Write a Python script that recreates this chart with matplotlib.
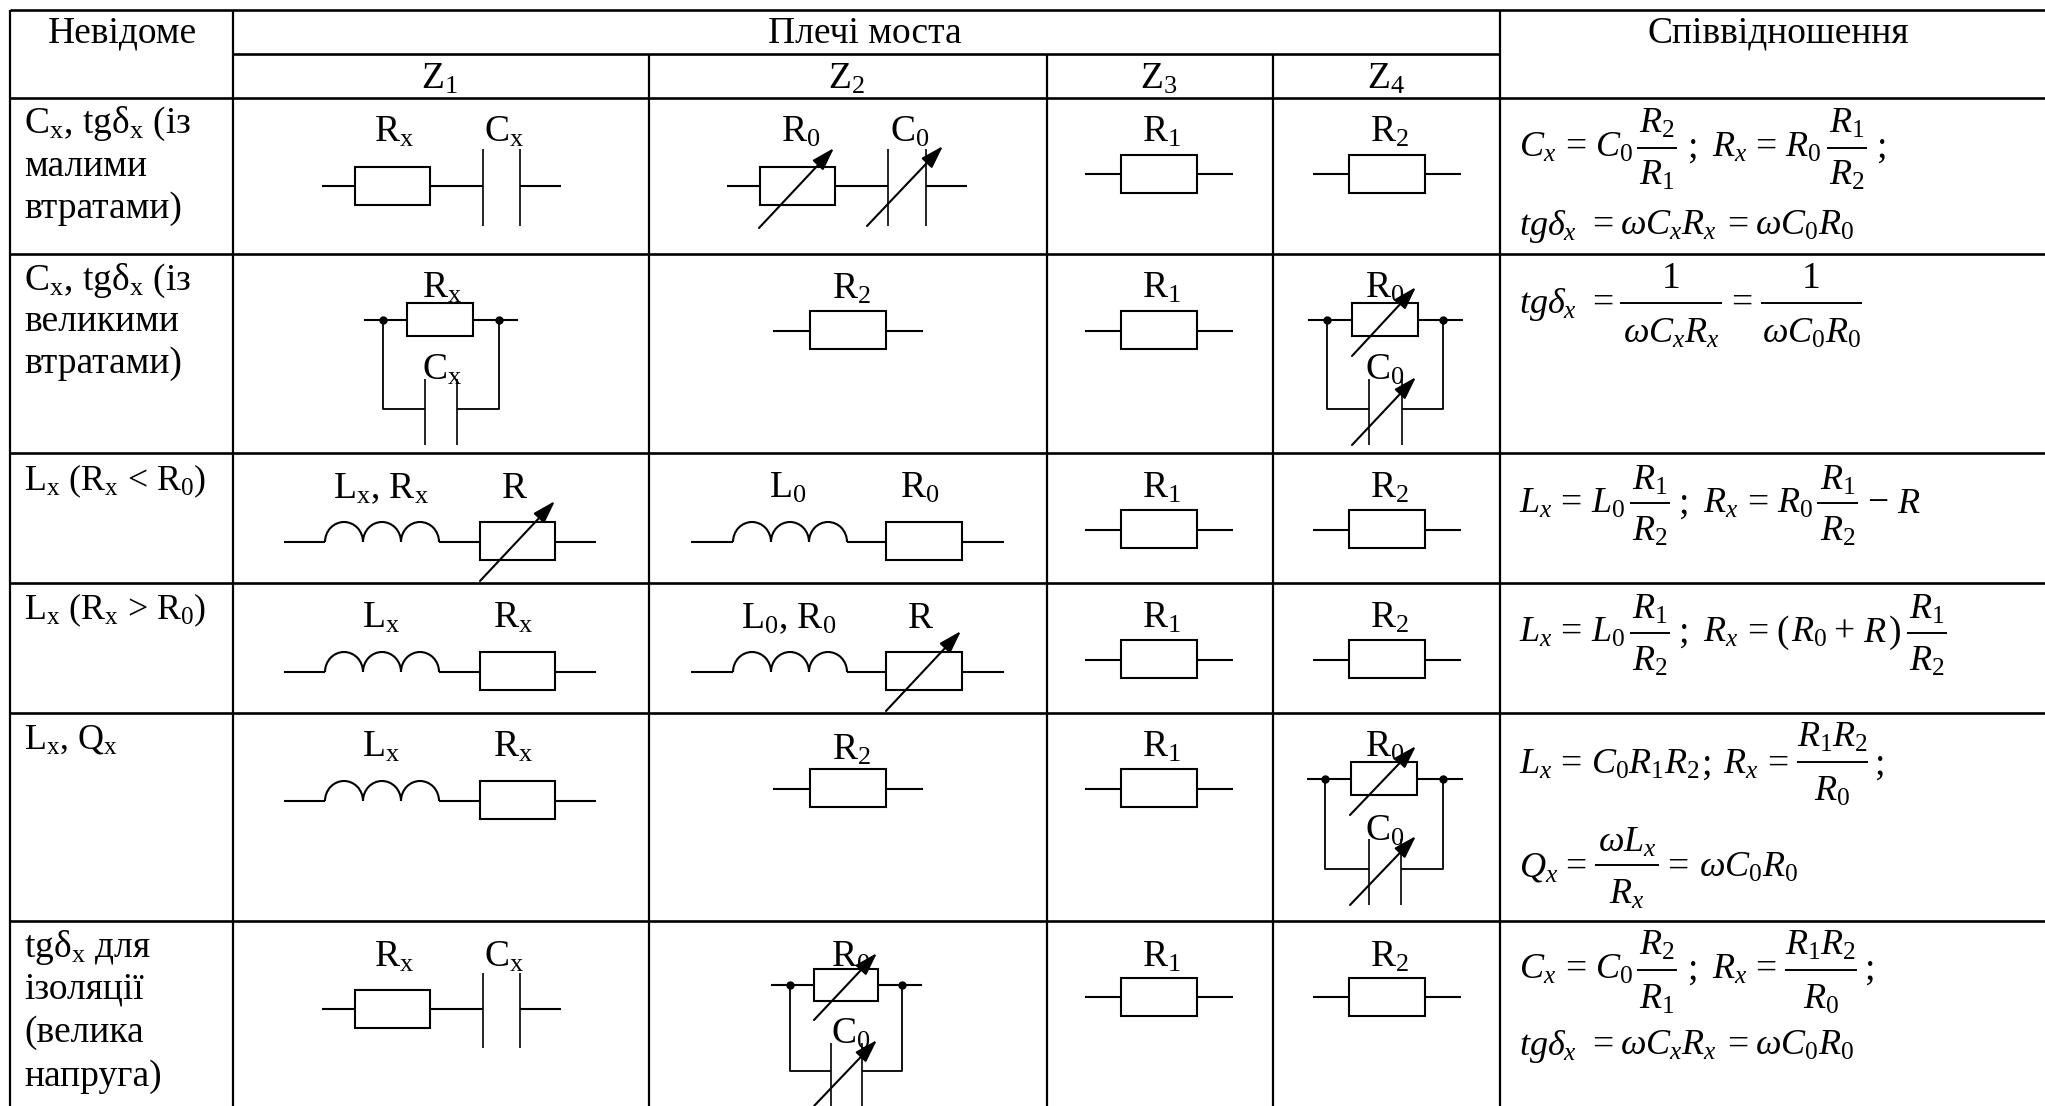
import numpy as np
import matplotlib
matplotlib.use('Agg')
import matplotlib.pyplot as plt
from matplotlib.patches import Arc, FancyArrowPatch, Rectangle

plt.rcParams['font.family'] = ['Liberation Serif', 'DejaVu Serif']
plt.rcParams['mathtext.fontset'] = 'custom'
plt.rcParams['mathtext.rm'] = 'Liberation Serif'
plt.rcParams['mathtext.it'] = 'Liberation Serif:italic'
plt.rcParams['mathtext.default'] = 'regular'

# table content
header_labels = ['Невідоме', 'Плечі моста', 'Співвідношення']
arm_labels = ['Z$_{1}$', 'Z$_{2}$', 'Z$_{3}$', 'Z$_{4}$']
unknown_labels = [
    ['C$_{x}$, tgδ$_{x}$ (із', 'малими', 'втратами)'],
    ['C$_{x}$, tgδ$_{x}$ (із', 'великими', 'втратами)'],
    ['L$_{x}$ (R$_{x}$ < R$_{0}$)'],
    ['L$_{x}$ (R$_{x}$ > R$_{0}$)'],
    ['L$_{x}$, Q$_{x}$'],
    ['tgδ$_{x}$ для', 'ізоляції', '(велика', 'напруга)'],
]

# grid lines, in pixels of the page
col_edges = [10, 233, 649, 1047, 1273, 1500]
row_edges = [10, 54, 98, 254, 453, 583, 713, 921]

Rx, Cx, Lx = 'R$_{x}$', 'C$_{x}$', 'L$_{x}$'
R0, C0, L0 = 'R$_{0}$', 'C$_{0}$', 'L$_{0}$'
R1, R2 = 'R$_{1}$', 'R$_{2}$'
LxRx, L0R0 = 'L$_{x}$, R$_{x}$', 'L$_{0}$, R$_{0}$'

# formula pieces
mCx, mRx = r'$\mathit{C}_{\mathit{x}}$', r'$\mathit{R}_{\mathit{x}}$'
mLx, mQx = r'$\mathit{L}_{\mathit{x}}$', r'$\mathit{Q}_{\mathit{x}}$'
mC0, mR0, mL0 = r'$\mathit{C}_{0}$', r'$\mathit{R}_{0}$', r'$\mathit{L}_{0}$'
mR1, mR2, mR = r'$\mathit{R}_{1}$', r'$\mathit{R}_{2}$', r'$\mathit{R}$'
mR1R2 = r'$\mathit{R}_{1}\mathit{R}_{2}$'
mC0R1R2 = r'$\mathit{C}_{0}\mathit{R}_{1}\mathit{R}_{2}$'
mTg = r'$\mathit{tg}\mathit{\delta}_{\mathit{x}}$'
mWCxRx = r'$\mathit{\omega C}_{\mathit{x}}\mathit{R}_{\mathit{x}}$'
mWC0R0 = r'$\mathit{\omega C}_{0}\mathit{R}_{0}$'
mWLx = r'$\mathit{\omega L}_{\mathit{x}}$'

FS = 27
FS_MATH = 26
LW = 1.5

fig = plt.figure(figsize=(20.45, 11.06), dpi=100)
ax = fig.add_axes([0, 0, 1, 1])
ax.set_xlim(0, 2045)
ax.set_ylim(1106, 0)
ax.axis('off')


def wire(xs, ys, lw=LW):
    ax.plot(xs, ys, color='black', lw=lw, solid_capstyle='butt', zorder=2)


def txt(x, y, s, ha='left', fs=None):
    if fs is None:
        fs = FS_MATH if 'mathit' in s else FS
    ax.text(x, y, s, fontsize=fs, ha=ha, va='baseline', color='black', zorder=3)


def resistor(x0, x1, y0, y1):
    ax.add_patch(Rectangle((x0, y0), x1 - x0, y1 - y0, fc='white', ec='black', lw=LW, zorder=2.5))


def cap(x0, x1, y0, y1):
    wire([x0, x0], [y0, y1], lw=1.2)
    wire([x1, x1], [y0, y1], lw=1.2)


def coil(x0, x1, y, h):
    w = (x1 - x0) / 3
    for i in range(3):
        ax.add_patch(Arc((x0 + w * (i + 0.5), y), w, 2 * h, theta1=180, theta2=360,
                         color='black', lw=LW, zorder=2))


def arrow(x0, y0, x1, y1):
    ax.add_patch(FancyArrowPatch((x0, y0), (x1, y1), arrowstyle='-|>,head_length=0.7,head_width=0.22',
                                 mutation_scale=20, color='black', lw=1.5, shrinkA=0, shrinkB=0, zorder=4))


def dot(x, y):
    ax.plot([x], [y], 'o', color='black', ms=5, zorder=3)


def simple_r(xc, yw, half, y0, y1, lead, label, base, lx):
    # one resistor with two leads and its label
    wire([xc - half - lead, xc - half], [yw, yw])
    wire([xc + half, xc + half + lead], [yw, yw])
    resistor(xc - half, xc + half, y0, y1)
    txt(lx, base, label, ha='center')


def series_rc(yw, y0, y1, py0, py1, xs, label_r, label_c, lx_r, lx_c, base):
    a, r0, r1, p0, p1, b = xs
    wire([a, r0], [yw, yw])
    wire([r1, p0], [yw, yw])
    wire([p1, b], [yw, yw])
    resistor(r0, r1, y0, y1)
    cap(p0, p1, py0, py1)
    txt(lx_r, base, label_r, ha='center')
    txt(lx_c, base, label_c, ha='center')


def series_lr(yw, y0, y1, xs, label_l, label_r, lx_l, lx_r, base):
    a, c0, c1, r0, r1, b = xs
    wire([a, c0], [yw, yw])
    coil(c0, c1, yw, yw - y0)
    wire([c1, r0], [yw, yw])
    resistor(r0, r1, y0, y1)
    wire([r1, b], [yw, yw])
    txt(lx_l, base, label_l, ha='center')
    txt(lx_r, base, label_r, ha='center')


def parallel_rc(xs, yw, y0, y1, yb, py0, py1, label_r, label_c, lx, base_r, base_c):
    a, d0, r0, r1, d1, b, p0, p1 = xs
    wire([a, r0], [yw, yw])
    wire([r1, b], [yw, yw])
    resistor(r0, r1, y0, y1)
    dot(d0, yw)
    dot(d1, yw)
    wire([d0, d0, p0], [yw, yb, yb], lw=1.3)
    wire([d1, d1, p1], [yw, yb, yb], lw=1.3)
    cap(p0, p1, py0, py1)
    txt(lx, base_r, label_r, ha='center')
    txt(lx, base_c, label_c, ha='center')


def frac(x0, x1, y, num, den, base_n, base_d):
    c = (x0 + x1) / 2
    wire([x0, x1], [y, y], lw=1.4)
    txt(c, base_n, num, ha='center')
    txt(c, base_d, den, ha='center')


# table grid
for y in row_edges:
    if y == row_edges[1]:
        wire([col_edges[1], col_edges[5]], [y, y], lw=1.9)
    else:
        wire([col_edges[0], 2045], [y, y], lw=1.9)
wire([col_edges[0]] * 2, [row_edges[0], 1106], lw=1.6)
wire([col_edges[1]] * 2, [row_edges[0], 1106], lw=1.6)
wire([col_edges[5]] * 2, [row_edges[0], 1106], lw=1.6)
for x in col_edges[2:5]:
    wire([x, x], [row_edges[1], 1106], lw=1.6)

# headers
txt(122, 43, header_labels[0], ha='center')
txt(865, 43, header_labels[1], ha='center')
txt(1778, 43, header_labels[2], ha='center')
for xc, s in zip([439, 846, 1159, 1386], arm_labels):
    txt(xc, 89, s, ha='center')

# first column
baselines = [[133, 176, 218], [290, 331, 373], [490], [619], [748], [957, 999, 1042, 1086]]
for lines, bases in zip(unknown_labels, baselines):
    for s, b in zip(lines, bases):
        txt(24, b, s, fs=25.8 if len(lines) == 1 else FS)

# Z3 and Z4, fixed resistors
for yw, y0, y1, base in [(174, 155, 193, 142), (331, 311, 349, 298), (530, 510, 548, 498),
                         (660, 640, 678, 628), (789, 769, 807, 757), (997, 978, 1016, 967)]:
    simple_r(1159, yw, 38, y0, y1, 36, R1, base, 1161)
for yw, y0, y1, base in [(174, 155, 193, 142), (530, 510, 548, 498), (660, 640, 678, 628), (997, 978, 1016, 967)]:
    simple_r(1387, yw, 38, y0, y1, 36, R2, base, 1389)

# row 1
series_rc(186, 167, 205, 149, 226, [322, 355, 430, 483, 520, 561], Rx, Cx, 394, 504, 142)
series_rc(186, 167, 205, 149, 226, [727, 760, 835, 888, 926, 967], R0, C0, 801, 910, 142)
arrow(759, 228, 834, 148)
arrow(867, 226, 943, 146)

# row 2
parallel_rc([364, 383, 407, 473, 499, 518, 425, 457], 320, 303, 336, 409, 379, 445, Rx, Cx, 442, 298, 380)
simple_r(848, 331, 38, 311, 349, 37, R2, 299, 851)
parallel_rc([1308, 1327, 1352, 1418, 1443, 1463, 1369, 1402], 320, 303, 336, 409, 379, 445, R0, C0, 1385, 298, 380)
arrow(1352, 356, 1416, 287)
arrow(1352, 445, 1416, 377)

# row 3
series_lr(542, 522, 560, [284, 325, 439, 480, 555, 596], LxRx, 'R', 381, 514, 498)
arrow(480, 581, 555, 501)
series_lr(542, 522, 560, [691, 733, 847, 886, 962, 1004], L0, R0, 788, 920, 498)

# row 4
series_lr(672, 652, 690, [284, 325, 439, 480, 555, 596], Lx, Rx, 381, 513, 628)
series_lr(672, 652, 690, [691, 733, 847, 886, 962, 1004], L0R0, 'R', 789, 920, 628)
arrow(886, 711, 961, 631)

# row 5
series_lr(801, 781, 819, [284, 325, 439, 480, 555, 596], Lx, Rx, 381, 513, 757)
simple_r(848, 789, 38, 769, 807, 37, R2, 760, 851)
parallel_rc([1307, 1325, 1351, 1417, 1443, 1463, 1369, 1401], 779, 762, 795, 869, 839, 905, R0, C0, 1385, 757, 841)
arrow(1350, 815, 1416, 746)
arrow(1350, 905, 1416, 836)

# row 6
series_rc(1009, 990, 1028, 973, 1048, [322, 355, 430, 483, 520, 561], Rx, Cx, 394, 504, 967)
parallel_rc([771, 790, 814, 878, 902, 922, 831, 862], 985, 969, 1001, 1071, 1043, 1120, R0, C0, 851, 967, 1044)
arrow(814, 1020, 877, 953)
arrow(814, 1106, 877, 1040)

# formulas, row 1
txt(1519, 157, mCx); txt(1565, 157, '='); txt(1595, 157, mC0)
frac(1637, 1677, 148, mR2, mR1, 133, 185)
txt(1688, 157, ';'); txt(1712, 157, mRx); txt(1755, 157, '='); txt(1785, 157, mR0)
frac(1827, 1867, 148, mR1, mR2, 133, 185)
txt(1877, 157, ';')
txt(1519, 235, mTg); txt(1592, 235, '='); txt(1620, 235, mWCxRx); txt(1727, 235, '='); txt(1755, 235, mWC0R0)

# row 2
txt(1519, 313, mTg); txt(1592, 313, '=')
frac(1620, 1722, 303, '1', mWCxRx, 288, 343)
txt(1731, 313, '=')
frac(1761, 1862, 303, '1', mWC0R0, 288, 343)

# row 3
txt(1519, 513, mLx); txt(1560, 513, '='); txt(1591, 513, mL0)
frac(1630, 1670, 503, mR1, mR2, 490, 541)
txt(1679, 513, ';'); txt(1703, 513, mRx); txt(1747, 513, '='); txt(1777, 513, mR0)
frac(1817, 1858, 503, mR1, mR2, 490, 541)
txt(1867, 513, '−'); txt(1897, 513, mR)

# row 4
txt(1519, 642, mLx); txt(1560, 642, '='); txt(1591, 642, mL0)
frac(1630, 1670, 633, mR1, mR2, 619, 671)
txt(1679, 642, ';'); txt(1703, 642, mRx); txt(1747, 642, '=')
txt(1776, 642, '('); txt(1791, 642, mR0); txt(1833, 642, '+'); txt(1863, 642, mR); txt(1889, 642, ')')
frac(1907, 1947, 633, mR1, mR2, 619, 671)

# row 5
txt(1519, 774, mLx); txt(1560, 774, '='); txt(1591, 774, mC0R1R2)
txt(1702, 774, ';'); txt(1723, 774, mRx); txt(1767, 774, '=')
frac(1797, 1868, 762, mR1R2, mR0, 747, 801)
txt(1875, 774, ';')
txt(1519, 877, mQx); txt(1565, 877, '=')
frac(1595, 1659, 865, mWLx, mRx, 852, 904)
txt(1667, 877, '='); txt(1699, 877, mWC0R0)

# row 6
txt(1519, 979, mCx); txt(1565, 979, '='); txt(1595, 979, mC0)
frac(1637, 1677, 970, mR2, mR1, 955, 1009)
txt(1688, 979, ';'); txt(1712, 979, mRx); txt(1755, 979, '=')
frac(1785, 1857, 970, mR1R2, mR0, 955, 1009)
txt(1865, 979, ';')
txt(1519, 1055, mTg); txt(1592, 1055, '='); txt(1620, 1055, mWCxRx); txt(1727, 1055, '='); txt(1755, 1055, mWC0R0)

fig.savefig('out.png', dpi=100, facecolor='white')
